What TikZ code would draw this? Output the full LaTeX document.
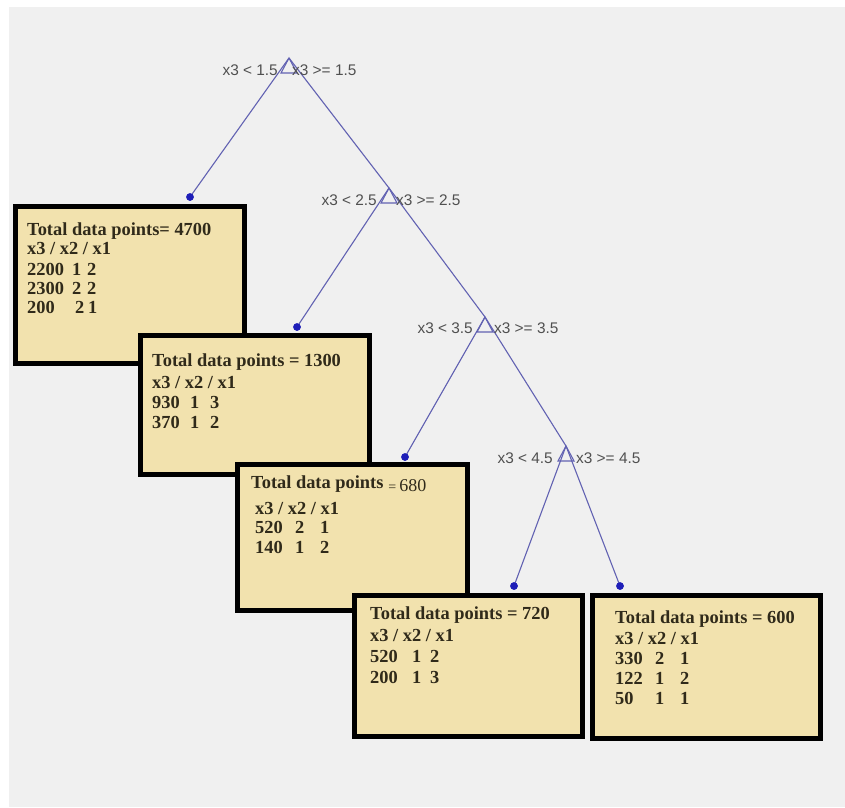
\documentclass[tikz,border=0pt]{standalone}
\usepackage{fontspec}
\setmainfont{Liberation Serif}
\newfontfamily\lblfont{Liberation Sans}
\definecolor{bg}{HTML}{F0F0F0}
\definecolor{boxfill}{HTML}{F2E2AE}
\definecolor{txt}{HTML}{302A1A}
\definecolor{edge}{HTML}{6262B2}
\definecolor{dotc}{HTML}{1E1EB8}
\definecolor{lbl}{HTML}{505050}
\newcommand{\trow}[5]{\makebox[#2pt][l]{#1}\makebox[#4pt][l]{#3}#5}
\tikzset{
  boxrect/.style={draw=black, line width=5pt, fill=boxfill},
  boxtext/.style={anchor=base west, inner sep=0pt, text=txt,
    font=\bfseries\fontsize{18.4}{19.5}\selectfont},
  edgeline/.style={draw=edge, line width=1.1pt},
  tri/.style={draw=edge, line width=1.1pt, line join=miter},
  leaf/.style={circle, fill=dotc, inner sep=0pt, minimum size=7.5pt},
  lblL/.style={anchor=east, inner sep=0pt, text=lbl, font=\lblfont\fontsize{15.4}{16}\selectfont},
  lblR/.style={anchor=west, inner sep=0pt, text=lbl, font=\lblfont\fontsize{15.4}{16}\selectfont},
}
\begin{document}
\begin{tikzpicture}[x=1pt,y=-1pt]
\useasboundingbox (0,0) rectangle (845,807);
\fill[white] (0,0) rectangle (845,807);
\fill[bg] (9,7) rectangle (845,807);

% split points (triangle apexes)
\coordinate (t1) at (289,58);
\coordinate (t2) at (389,188);
\coordinate (t3) at (485,317);
\coordinate (t4) at (566,446);

% leaf dots
\node[leaf] (d1) at (190,197) {};
\node[leaf] (d2) at (297,327) {};
\node[leaf] (d3) at (405,457) {};
\node[leaf] (d4) at (514,586) {};
\node[leaf] (d5) at (620,586) {};

% edges
\draw[edgeline] (t1) -- (d1.center);
\draw[edgeline] (t1) -- (t2);
\draw[edgeline] (t2) -- (d2.center);
\draw[edgeline] (t2) -- (t3);
\draw[edgeline] (t3) -- (d3.center);
\draw[edgeline] (t3) -- (t4);
\draw[edgeline] (t4) -- (d4.center);
\draw[edgeline] (t4) -- (d5.center);

% triangles
\draw[tri] (t1) -- ++(-8,15) -- ++(16,0) -- cycle;
\draw[tri] (t2) -- ++(-8,15) -- ++(16,0) -- cycle;
\draw[tri] (t3) -- ++(-8,15) -- ++(16,0) -- cycle;
\draw[tri] (t4) -- ++(-8,15) -- ++(16,0) -- cycle;

% split labels
\node[lblL] (l1a) at (278,70) {x3 < 1.5};
\node[lblR] (l1b) at (292,70) {x3 >= 1.5};
\node[lblL] (l2a) at (377,200) {x3 < 2.5};
\node[lblR] (l2b) at (396,200) {x3 >= 2.5};
\node[lblL] (l3a) at (473,328) {x3 < 3.5};
\node[lblR] (l3b) at (494,328) {x3 >= 3.5};
\node[lblL] (l4a) at (553,458) {x3 < 4.5};
\node[lblR] (l4b) at (576,458) {x3 >= 4.5};

% re-draw dots on top
\node[leaf] at (d1) {};
\node[leaf] at (d2) {};
\node[leaf] at (d3) {};
\node[leaf] at (d4) {};
\node[leaf] at (d5) {};

% box 1
\draw[boxrect] (15.5,206.5) rectangle (244.5,363.5);
\node[boxtext] (b1a) at (27,235) {Total data points= 4700};
\node[boxtext] (b1b) at (27,254) {x3 / x2 / x1};
\node[boxtext] (b1c) at (27,275) {\trow{2200}{45}{1}{15}{2}};
\node[boxtext] (b1d) at (27,294) {\trow{2300}{45}{2}{15}{2}};
\node[boxtext] (b1e) at (27,313) {\trow{200}{48}{2}{13}{1}};

% box 2
\draw[boxrect] (140.5,335.5) rectangle (369.5,474.5);
\node[boxtext] (b2a) at (152,366) {Total data points = 1300};
\node[boxtext] (b2b) at (152,388) {x3 / x2 / x1};
\node[boxtext] (b2c) at (152,408) {\trow{930}{38}{1}{20}{3}};
\node[boxtext] (b2d) at (152,428) {\trow{370}{38}{1}{20}{2}};

% box 3
\draw[boxrect] (237.5,464.5) rectangle (467.5,610.5);
\node[boxtext] (b3a) at (251,488) {Total data points\hspace{5pt}\raisebox{-3pt}{\mdseries\fontsize{14}{15}\selectfont=\hspace{3pt}\fontsize{18}{19}\selectfont 680}};
\node[boxtext] (b3b) at (255,514) {x3 / x2 / x1};
\node[boxtext] (b3c) at (255,533) {\trow{520}{40}{2}{25}{1}};
\node[boxtext] (b3d) at (255,553) {\trow{140}{40}{1}{25}{2}};

% box 4
\draw[boxrect] (354.5,595.5) rectangle (582.5,736.5);
\node[boxtext] (b4a) at (370,619) {Total data points = 720};
\node[boxtext] (b4b) at (370,641) {x3 / x2 / x1};
\node[boxtext] (b4c) at (370,662) {\trow{520}{42}{1}{18}{2}};
\node[boxtext] (b4d) at (370,683) {\trow{200}{42}{1}{18}{3}};

% box 5
\draw[boxrect] (592.5,595.5) rectangle (820.5,738.5);
\node[boxtext] (b5a) at (615,623) {Total data points = 600};
\node[boxtext] (b5b) at (615,644) {x3 / x2 / x1};
\node[boxtext] (b5c) at (615,664) {\trow{330}{40}{2}{25}{1}};
\node[boxtext] (b5d) at (615,684) {\trow{122}{40}{1}{25}{2}};
\node[boxtext] (b5e) at (615,704) {\trow{50}{40}{1}{25}{1}};
\end{tikzpicture}
\end{document}
